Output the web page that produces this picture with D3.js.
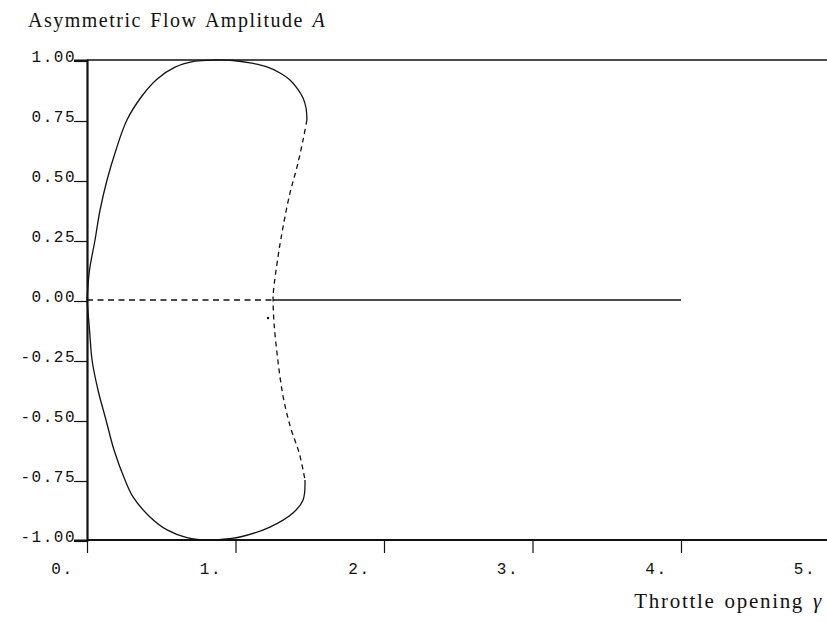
<!DOCTYPE html>
<meta charset="utf-8">
<style>
  body { margin: 0; background: #fff; }
  svg { display: block; }
  .tick text { font-family: "Liberation Mono", monospace; font-size: 16px; letter-spacing: 1.5px; fill: #111; }
  .lab { font-family: "Liberation Serif", serif; fill: #111; }
</style>
<body>
<svg width="827" height="621"></svg>
</body>
<script src="https://d3js.org/d3.v7.min.js"></script>
<script>

// upper stable branch (solid), from origin over the top to the fold
var upperG = [0, 0.017, 0.054, 0.088, 0.135, 0.195, 0.269, 0.37, 0.471, 0.593, 0.727, 0.86, 0.983, 1.098, 1.212, 1.30, 1.367, 1.414, 1.455, 1.475, 1.481];
var upperA = [0, 0.125, 0.25, 0.375, 0.5, 0.625, 0.75, 0.85, 0.92, 0.97, 0.995, 1.0, 0.998, 0.988, 0.971, 0.946, 0.917, 0.883, 0.842, 0.80, 0.75];

// unstable branch (dashed), fold to fold through the bifurcation point
var unstG = [1.481, 1.455, 1.414, 1.367, 1.32, 1.286, 1.256, 1.253, 1.26, 1.285, 1.32, 1.37, 1.43, 1.468];
var unstA = [0.75, 0.667, 0.554, 0.446, 0.304, 0.179, 0.04, 0, -0.1, -0.25, -0.4, -0.53, -0.64, -0.75];

// lower stable branch (solid), fold round the bottom back to origin
var lowerG = [1.468, 1.455, 1.387, 1.232, 1.03, 0.963, 0.828, 0.673, 0.539, 0.424, 0.31, 0.256, 0.182, 0.128, 0.074, 0.034, 0.017, 0];
var lowerA = [-0.75, -0.833, -0.8875, -0.946, -0.9875, -0.994, -1.0, -0.99, -0.958, -0.904, -0.82, -0.75, -0.625, -0.5, -0.375, -0.25, -0.125, 0];

// axisymmetric branch A = 0
var axisUnstG = [0, 1.253];
var axisStabG = [1.253, 4.0];

var strayDot = [1.219, -0.075];

var xTicks = [0, 1, 2, 3, 4, 5];
var xTickLabels = ["0.", "1.", "2.", "3.", "4.", "5."];
var yTicks = [-1, -0.75, -0.5, -0.25, 0, 0.25, 0.5, 0.75, 1];

var svg = d3.select("svg");

var x = d3.scaleLinear().domain([0, 5]).range([87, 829.5]);
var y = d3.scaleLinear().domain([-1, 1]).range([540, 60]);

function zip(g, a) { return g.map((v, i) => [v, a[i]]); }

var line = d3.line()
    .x(d => x(d[0]))
    .y(d => y(d[1]))
    .curve(d3.curveCatmullRom.alpha(0.5));

// top frame line
svg.append("line")
    .attr("x1", x(0)).attr("x2", 827)
    .attr("y1", y(1)).attr("y2", y(1))
    .attr("stroke", "#111").attr("stroke-width", 1.6);

// y axis
var yAxis = svg.append("g")
    .attr("transform", "translate(" + x(0) + ",0)")
    .call(d3.axisLeft(y).tickValues(yTicks).tickSize(13).tickPadding(1)
        .tickFormat(d => d3.format(".2f")(d).replace("−", "-")));
yAxis.select(".domain").attr("stroke", "#111").attr("stroke-width", 2.2);
yAxis.selectAll(".tick line").attr("stroke", "#111").attr("stroke-width", 1.2).attr("transform", "translate(0,1)");
yAxis.selectAll(".tick text").attr("dy", 0).attr("y", 1).attr("x", -11).attr("text-anchor", "end");

// x axis
var xAxis = svg.append("g")
    .attr("transform", "translate(0," + y(-1) + ")")
    .call(d3.axisBottom(x).tickValues(xTicks).tickSize(13)
        .tickFormat((d, i) => xTickLabels[i]));
xAxis.select(".domain").attr("stroke", "#111").attr("stroke-width", 2.2).attr("d", "M" + x(0) + ",0H827");
xAxis.selectAll(".tick line").attr("stroke", "#111").attr("stroke-width", 1.2);
xAxis.selectAll(".tick text").attr("dy", 0).attr("y", 34).attr("x", -14).attr("text-anchor", "end");

// curves
var solidStyle = s => s.attr("fill", "none").attr("stroke", "#111").attr("stroke-width", 1.3);

svg.append("path").datum(zip(upperG, upperA)).attr("d", line).call(solidStyle);
svg.append("path").datum(zip(lowerG, lowerA)).attr("d", line).call(solidStyle);
svg.append("path").datum(zip(unstG, unstA)).attr("d", line).call(solidStyle)
    .attr("stroke-dasharray", "5,4");

svg.append("path").datum(axisUnstG.map(g => [g, 0])).attr("d", d3.line().x(d => x(d[0])).y(d => y(d[1])))
    .call(solidStyle).attr("stroke-dasharray", "6,4.5");
svg.append("path").datum(axisStabG.map(g => [g, 0])).attr("d", d3.line().x(d => x(d[0])).y(d => y(d[1])))
    .call(solidStyle);

svg.append("circle")
    .attr("cx", x(strayDot[0])).attr("cy", y(strayDot[1]))
    .attr("r", 1.2).attr("fill", "#111");

// axis titles
var t = svg.append("text").attr("class", "lab").attr("x", 28).attr("y", 27)
    .attr("font-size", 20).attr("letter-spacing", "1.5px").attr("word-spacing", "2px");
t.append("tspan").text("Asymmetric Flow Amplitude ");
t.append("tspan").attr("font-style", "italic").text("A");

var b = svg.append("text").attr("class", "lab").attr("x", 823).attr("y", 608)
    .attr("font-size", 21).attr("text-anchor", "end")
    .attr("letter-spacing", "1.7px").attr("word-spacing", "2px");
b.append("tspan").text("Throttle opening ");
b.append("tspan").attr("font-style", "italic").text("γ");

</script>
